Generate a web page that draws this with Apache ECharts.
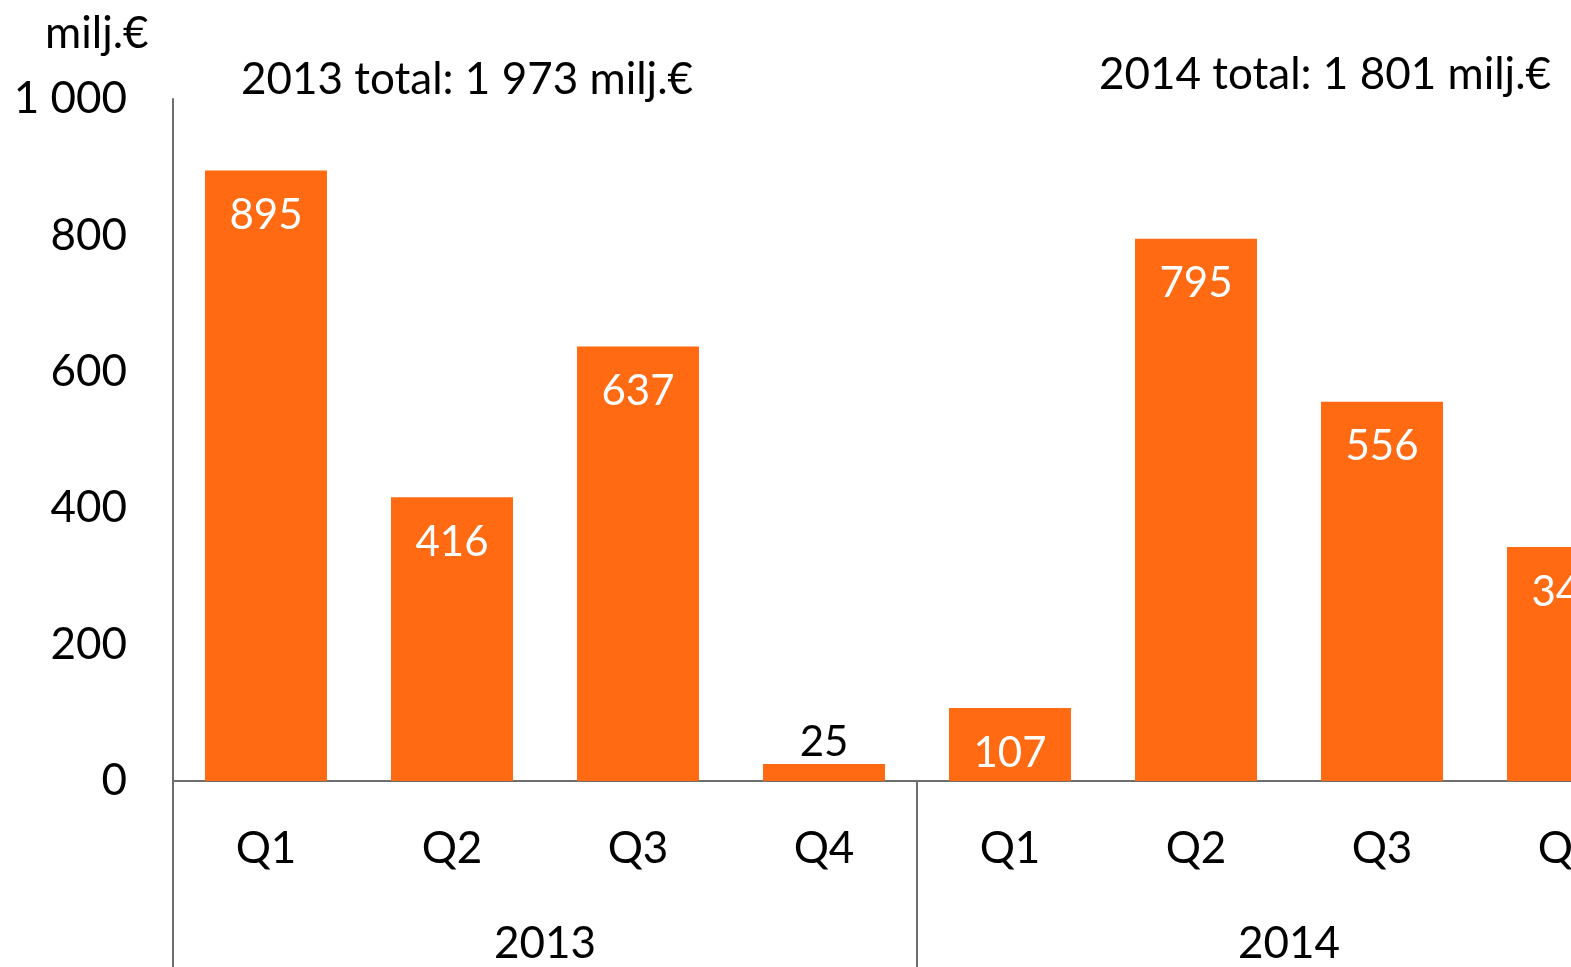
<!DOCTYPE html>
<html><head><meta charset="utf-8">
<script src="https://cdn.jsdelivr.net/npm/echarts@6/dist/echarts.min.js"></script>
<style>html,body{margin:0;padding:0;background:#fff}#c{width:1571px;height:967px}</style>
</head><body><div id="c"></div>
<script>
const quarters = ['Q1','Q2','Q3','Q4','Q1','Q2','Q3','Q4'];
const years = ['2013','2014'];
const values = [895, 416, 637, 25, 107, 795, 556, 343];
const yTicks = [0, 200, 400, 600, 800, 1000];
const unitLabel = 'milj.€';
const totals = ['2013 total: 1 973 milj.€', '2014 total: 1 801 milj.€'];

const FONT = 'Lato';
const FS = 44;
const chart = echarts.init(document.getElementById('c'));
const fmtY = v => v >= 1000 ? String(v).replace(/\B(?=(\d{3})+(?!\d))/g, ' ') : String(v);
chart.setOption({
  animation: false,
  textStyle: {fontFamily: FONT},
  title: [
    {text: unitLabel, left: 40, top: 7, textStyle: {fontFamily: FONT, fontSize: FS, fontWeight: 'normal', color: '#000'}},
    {text: totals[0], left: 236, top: 53, textStyle: {fontFamily: FONT, fontSize: FS, fontWeight: 'normal', color: '#000'}},
    {text: totals[1], left: 1094, top: 48, textStyle: {fontFamily: FONT, fontSize: FS, fontWeight: 'normal', color: '#000'}}
  ],
  grid: {left: 173, top: 99, width: 1488, height: 682, outerBoundsMode: 'none', containLabel: false},
  xAxis: [
    {type: 'category', data: quarters, position: 'bottom',
     axisLine: {show: true, lineStyle: {color: '#6e6e6e', width: 2}},
     axisTick: {show: false},
     axisLabel: {interval: 0, margin: 46, fontSize: FS, color: '#000', fontFamily: FONT}},
    {type: 'category', data: years, position: 'bottom', gridIndex: 0,
     axisLine: {show: false},
     axisTick: {show: true, length: 186, lineStyle: {color: '#6e6e6e', width: 2}},
     axisLabel: {interval: 0, margin: 141, fontSize: FS, color: '#000', fontFamily: FONT}}
  ],
  yAxis: {type: 'value', min: yTicks[0], max: yTicks[yTicks.length-1], interval: 200,
    axisLine: {show: true, lineStyle: {color: '#6e6e6e', width: 2}},
    axisTick: {show: false}, splitLine: {show: false},
    axisLabel: {margin: 46, fontSize: FS, color: '#000', fontFamily: FONT, formatter: fmtY}},
  series: [{
    type: 'bar', xAxisIndex: 0, data: values.map(v => v < 50
      ? {value: v, label: {position: 'top', color: '#000', distance: 0}}
      : v),
    barWidth: 122,
    itemStyle: {color: '#FF6A13'},
    label: {show: true, position: 'insideTop', distance: 24, color: '#fff', fontSize: 42, fontFamily: FONT}
  }]
});
</script></body></html>
